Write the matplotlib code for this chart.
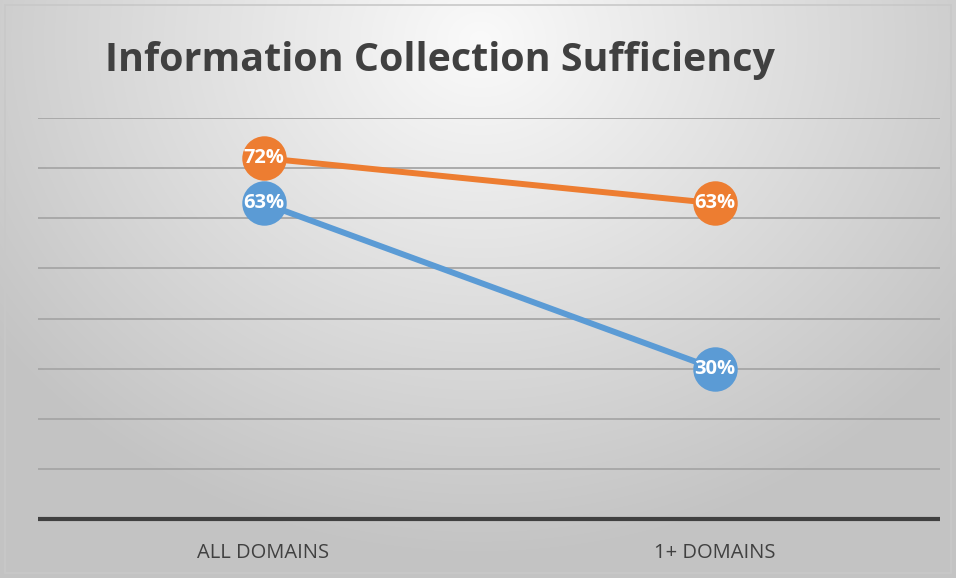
import matplotlib.pyplot as plt
import matplotlib.patches
import numpy as np

categories = ['ALL DOMAINS', '1+ DOMAINS']
series_orange = [72, 63]
series_blue = [63, 30]
title = 'Information Collection Sufficiency'

ORANGE = '#ED7D31'
BLUE = '#5B9BD5'


def background(fig):
    bg = fig.add_axes([0, 0, 1, 1], zorder=-10)
    w, h = 956, 578
    xx, yy = np.meshgrid(np.arange(w), np.arange(h))
    d = np.sqrt(((xx - 480) / 600.0) ** 2 + ((yy - 40) / 520.0) ** 2)
    v = 250 - 55 * np.clip(d, 0, 1.2)
    v = np.clip(v, 195, 250) / 255.0
    img = np.dstack([v, v, v])
    bg.imshow(img, extent=[0, 1, 0, 1], aspect='auto', origin='upper')
    bg.add_patch(matplotlib.patches.Rectangle(
        (5 / w, 5 / h), 946 / w, 568 / h, fill=False,
        edgecolor='#c8c8c8', linewidth=1.2, transform=bg.transAxes))
    bg.axis('off')


def main():
    plt.rcParams['font.family'] = ['Open Sans', 'DejaVu Sans']
    fig = plt.figure(figsize=(9.56, 5.78), dpi=100)
    background(fig)

    ax = fig.add_axes([38 / 956, 59 / 578, 902 / 956, 401 / 578])
    ax.set_facecolor('none')
    x = np.arange(len(categories))
    ax.set_xlim(-0.5, 1.5)
    ax.set_ylim(0, 80)
    ax.set_yticks(np.arange(10, 81, 10))
    ax.yaxis.grid(True, color='#a6a6a6', linewidth=1.3)
    ax.tick_params(axis='y', left=False, labelleft=False)
    ax.tick_params(axis='x', bottom=False, labelsize=14.5, labelcolor='#404040', pad=14)
    ax.set_xticks(x)
    ax.set_xticklabels(categories)
    for s in ['top', 'right', 'left']:
        ax.spines[s].set_visible(False)
    ax.spines['bottom'].set_color('#404040')
    ax.spines['bottom'].set_linewidth(3)
    ax.spines['bottom'].set_capstyle('butt')

    for vals, col in [(series_blue, BLUE), (series_orange, ORANGE)]:
        ax.plot(x, vals, color=col, linewidth=4.3, marker='o', markersize=32,
                markeredgewidth=0, solid_capstyle='butt', clip_on=False)
        for xi, v in zip(x, vals):
            ax.text(xi, v, f'{v}%', color='white', fontsize=14.5, fontweight='bold',
                    ha='center', va='center')

    fig.text(105 / 956, 1 - 60 / 578, title, fontsize=28.4, fontweight='bold',
             color='#404040', ha='left', va='center')

    fig.savefig('out.png', dpi=100)


if __name__ == '__main__':
    main()
